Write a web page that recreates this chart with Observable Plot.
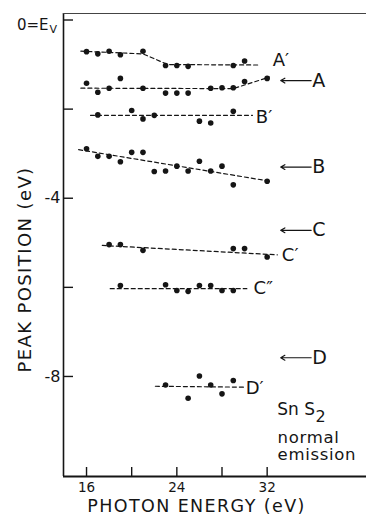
<!DOCTYPE html>
<html><head><meta charset="utf-8">
<script src="https://cdn.jsdelivr.net/npm/d3@7"></script>
<script src="https://cdn.jsdelivr.net/npm/@observablehq/plot@0.6"></script>
<style>
html,body{margin:0;padding:0;background:#fff;}
#chart svg{display:block;}
</style>
</head><body><div id="chart"></div>
<script>
// ---- data (photon energy eV, peak position eV) ----
const energyAp = [16,17,18,19,21,23,24,25,29,30];
const peakAp   = [-0.71,-0.76,-0.70,-0.78,-0.70,-1.02,-1.02,-1.04,-1.02,-0.92];
const energyA  = [16,17,18,19,21,23,24,25,27,28,29,30,32];
const peakA    = [-1.42,-1.62,-1.53,-1.31,-1.53,-1.64,-1.64,-1.64,-1.53,-1.52,-1.52,-1.38,-1.31];
const energyBp = [17,20,21,22,26,27,29];
const peakBp   = [-2.13,-2.03,-2.22,-2.14,-2.27,-2.31,-2.05];
const energyB  = [16,17,18,19,20,21,22,23,24,25,26,27,28,29,32];
const peakB    = [-2.89,-3.06,-3.06,-3.18,-2.97,-2.97,-3.40,-3.39,-3.28,-3.39,-3.17,-3.39,-3.28,-3.70,-3.62];
const energyCp = [18,19,21,29,30,32];
const peakCp   = [-5.04,-5.04,-5.17,-5.13,-5.13,-5.32];
const energyCpp= [19,23,24,25,26,27,28,29];
const peakCpp  = [-5.96,-5.94,-6.07,-6.09,-5.96,-5.96,-6.07,-6.07];
const energyDp = [23,25,26,27,28,29];
const peakDp   = [-8.19,-8.49,-7.99,-8.19,-8.39,-8.09];

// dashed guide lines [energy, peak]
const fitAp  = [[15.5,-0.70],[21.0,-0.76],[23.2,-1.00],[31.3,-1.01]];
const fitA   = [[15.5,-1.53],[29.0,-1.54],[32.2,-1.28]];
const fitBp  = [[16.35,-2.14],[30.7,-2.14]];
const fitB   = [[15.3,-2.91],[32.3,-3.62]];
const fitCp  = [[17.4,-5.06],[32.9,-5.27]];
const fitCpp = [[18.1,-6.03],[30.2,-6.03]];
const fitDp  = [[22.1,-8.22],[29.9,-8.24]];

// labels of the primed series: [text, energy, peak]
const primeNames  = ["A\u2032","B\u2032","C\u2032","C\u2033","D\u2032"];
const primeEnergy = [32.5, 31.0, 33.3, 30.8, 30.1];
const primePeak   = [-0.91, -2.18, -5.29, -6.03, -8.27];

// arrow-marked levels
const arrowNames = ["A","B","C","D"];
const arrowPeak  = [-1.36, -3.30, -4.72, -7.58];
const arrowTail = 35.9, arrowHead = 33.2, arrowLabelX = 36.0;

// axes
const xDomain = [13.96, 40.8];
const yDomain = [-10.245, 0.146];
const xTickVals = [16,20,24,28,32];
const xTickLabels = [16,24,32];
const yTickVals = [0,-2,-4,-6,-8];
const yTickLabels = [-4,-8];
const yTopLabel = ["0=E"], yTopSub = ["V"];
const xTitle = "PHOTON ENERGY (eV)";
const yTitle = "PEAK POSITION (eV)";
const sampleText = ["Sn S", "2", "normal\nemission"];

// ---- build tables ----
const series = [
  ["A'", energyAp, peakAp], ["A", energyA, peakA], ["B'", energyBp, peakBp],
  ["B", energyB, peakB], ["C'", energyCp, peakCp], ["C''", energyCpp, peakCpp],
  ["D'", energyDp, peakDp]
];
const points = series.flatMap(([s, xs, ys]) => xs.map((x, i) => ({s, x, y: ys[i]})));
const fits = [["A'",fitAp],["A",fitA],["B'",fitBp],["B",fitB],["C'",fitCp],["C''",fitCpp],["D'",fitDp]]
  .flatMap(([s, arr]) => arr.map(([x, y]) => ({s, x, y})));
const primes = primeNames.map((t, i) => ({t, x: primeEnergy[i], y: primePeak[i]}));
const arrows = arrowNames.map((t, i) => ({t, y: arrowPeak[i]}));

const W = 366, H = 523, mL = 63, mR = 0, mT = 13, mB = 47;
const fw = W - mL - mR, fh = H - mT - mB;
const ink = "#151515";

const chart = Plot.plot({
  width: W, height: H,
  marginLeft: mL, marginRight: mR, marginTop: mT, marginBottom: mB,
  style: {fontFamily: "DejaVu Sans", background: "white", color: ink},
  x: {domain: xDomain, axis: null},
  y: {domain: yDomain, axis: null},
  marks: [
    // frame: left, bottom, top
    Plot.ruleX([xDomain[0]], {stroke: ink, strokeWidth: 1.6}),
    Plot.ruleY([yDomain[0]], {stroke: ink, strokeWidth: 1.8}),
    Plot.ruleY([yDomain[1]], {stroke: "#444", strokeWidth: 1.1}),
    // inward ticks
    Plot.ruleY(yTickVals, {y: d => d, x1: xDomain[0], x2: xDomain[1], insetRight: fw - 10, stroke: ink, strokeWidth: 1.4}),
    Plot.ruleX(xTickVals, {x: d => d, y1: yDomain[1], y2: yDomain[0], insetTop: fh - 9, stroke: ink, strokeWidth: 1.4}),
    Plot.axisX(xTickLabels, {anchor: "bottom", tickSize: 0, tickPadding: 6, fontSize: 13.5, label: null, tickFormat: d => String(d)}),
    Plot.axisY(yTickLabels, {anchor: "left", tickSize: 0, tickPadding: 3, fontSize: 16, label: null, tickFormat: d => String(d)}),
    Plot.text(yTopLabel, {x: xDomain[0], y: yTickVals[0], dx: -15, dy: 5, textAnchor: "end", fontSize: 15, fill: ink}),
    Plot.text(yTopSub, {x: xDomain[0], y: yTickVals[0], dx: -14, dy: 9, textAnchor: "start", fontSize: 11, fill: ink}),
    // axis titles
    Plot.text([xTitle], {x: 25.74, y: yDomain[0], dy: 29.5, fontSize: 17.5, fill: ink}),
    Plot.text([yTitle], {x: xDomain[0], y: -5.6, dx: -38.5, rotate: -90, fontSize: 18, fill: ink}),
    // dashed guide lines
    Plot.line(fits, {x: "x", y: "y", z: "s", stroke: ink, strokeWidth: 1.2, strokeDasharray: "4,3"}),
    // data points
    Plot.dot(points, {x: "x", y: "y", r: 2.8, fill: ink, stroke: "none"}),
    // labels
    Plot.text(primes, {x: "x", y: "y", text: "t", textAnchor: "start", fontSize: 18, fill: ink}),
    Plot.arrow(arrows, {x1: arrowTail, x2: arrowHead, y1: "y", y2: "y", stroke: ink, strokeWidth: 1.2, headLength: 6}),
    Plot.text(arrows, {x: arrowLabelX, y: "y", text: "t", textAnchor: "start", fontSize: 19, fill: ink}),
    // sample annotation
    Plot.text([sampleText[0]], {x: 32.9, y: -8.74, textAnchor: "start", fontSize: 17, fill: ink}),
    Plot.text([sampleText[1]], {x: 36.28, y: -8.91, textAnchor: "start", fontSize: 16, fill: ink}),
    Plot.text([sampleText[2]], {x: 32.92, y: -9.57, textAnchor: "start", fontSize: 16.5, lineHeight: 1.02, lineAnchor: "middle", fill: ink})
  ]
});
d3.select(chart).selectAll("text").filter(function() {
  const t = this.textContent; return t === xTitle || t === yTitle;
}).attr("letter-spacing", "1.4px");
d3.select(chart).selectAll("text").filter(function() {
  return this.textContent === "normalemission";
}).attr("letter-spacing", "0.7px");
document.getElementById("chart").appendChild(chart);
</script>
</body></html>
